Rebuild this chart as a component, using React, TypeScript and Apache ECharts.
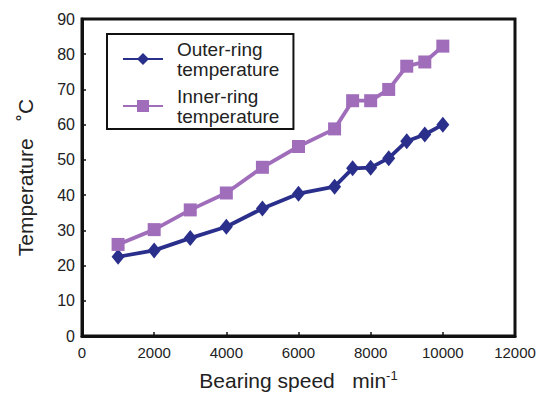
import React, { useEffect, useRef } from "react";
import * as echarts from "echarts";

const speeds = [1000, 2000, 3000, 4000, 5000, 6000, 7000, 7500, 8000, 8500, 9000, 9500, 10000];
const outerRing = [22.5, 24.3, 27.8, 31.0, 36.2, 40.4, 42.4, 47.6, 47.8, 50.5, 55.3, 57.2, 60.0];
const innerRing = [26.0, 30.2, 35.8, 40.6, 47.9, 53.8, 58.8, 66.8, 66.8, 70.0, 76.6, 77.8, 82.3];
const seriesNames = ["Outer-ring temperature", "Inner-ring temperature"];

const FONT = "Liberation Sans, Arial, Helvetica, sans-serif";

export default function App() {
  const ref = useRef<HTMLDivElement>(null);
  useEffect(() => {
    if (!ref.current) return;
    const chart = echarts.init(ref.current, null, { renderer: "svg" });
    chart.setOption({
      animation: false,
      backgroundColor: "#ffffff",
      grid: {
        left: 82,
        top: 19,
        width: 433,
        height: 326,
        show: true,
        borderColor: "#111",
        borderWidth: 3,
        backgroundColor: "transparent",
      },
      legend: {
        orient: "vertical",
        left: 107,
        top: 34,
        width: 186,
        padding: [5, 14, 3, 15],
        itemGap: 7,
        itemWidth: 40,
        itemHeight: 15,
        borderColor: "#111",
        borderWidth: 2,
        formatter: (name: string) => name.replace(" ", "\n"),
        textStyle: {
          fontFamily: FONT,
          fontSize: 19,
          lineHeight: 20,
          color: "#222",
          padding: [0, 0, 0, 9],
        },
        data: seriesNames,
      },
      xAxis: {
        type: "value",
        min: 0,
        max: 12000,
        interval: 2000,
        name: "Bearing speed   min{sup|-1}",
        nameLocation: "middle",
        nameGap: 33,
        nameTextStyle: {
          fontFamily: FONT,
          fontSize: 21,
          color: "#222",
          rich: {
            sup: { fontSize: 13, verticalAlign: "top", padding: [0, 0, 10, 0], fontFamily: FONT, color: "#222" },
          },
        },
        axisLine: { show: true, lineStyle: { color: "#111", width: 3 } },
        axisTick: { show: true, inside: true, length: 4, lineStyle: { color: "#111", width: 1.5 } },
        axisLabel: {
          fontFamily: FONT,
          fontSize: 15,
          color: "#222",
          margin: 9,
          formatter: (v: number) => String(v),
        },
        splitLine: { show: false },
      },
      yAxis: {
        type: "value",
        min: 0,
        max: 90,
        interval: 10,
        name: "Temperature   ˚C",
        nameLocation: "middle",
        nameGap: 46,
        nameTextStyle: { fontFamily: FONT, fontSize: 21, color: "#222" },
        axisLine: { show: true, lineStyle: { color: "#111", width: 3 } },
        axisTick: { show: true, inside: true, length: 4, lineStyle: { color: "#111", width: 1.5 } },
        axisLabel: { fontFamily: FONT, fontSize: 16, color: "#222", margin: 7 },
        splitLine: { show: false },
      },
      series: [
        {
          name: seriesNames[0],
          type: "line",
          data: speeds.map((s, i) => [s, outerRing[i]]),
          symbol: "diamond",
          symbolSize: [13, 16],
          itemStyle: { color: "#2b2f8c" },
          lineStyle: { color: "#2b2f8c", width: 3.8 },
        },
        {
          name: seriesNames[1],
          type: "line",
          data: speeds.map((s, i) => [s, innerRing[i]]),
          symbol: "rect",
          symbolSize: 13,
          itemStyle: { color: "#a06dbb" },
          lineStyle: { color: "#a06dbb", width: 3.8 },
        },
      ],
    });
    return () => chart.dispose();
  }, []);
  return <div ref={ref} style={{ width: 546, height: 396, position: "absolute", left: 0, top: 0 }} />;
}
